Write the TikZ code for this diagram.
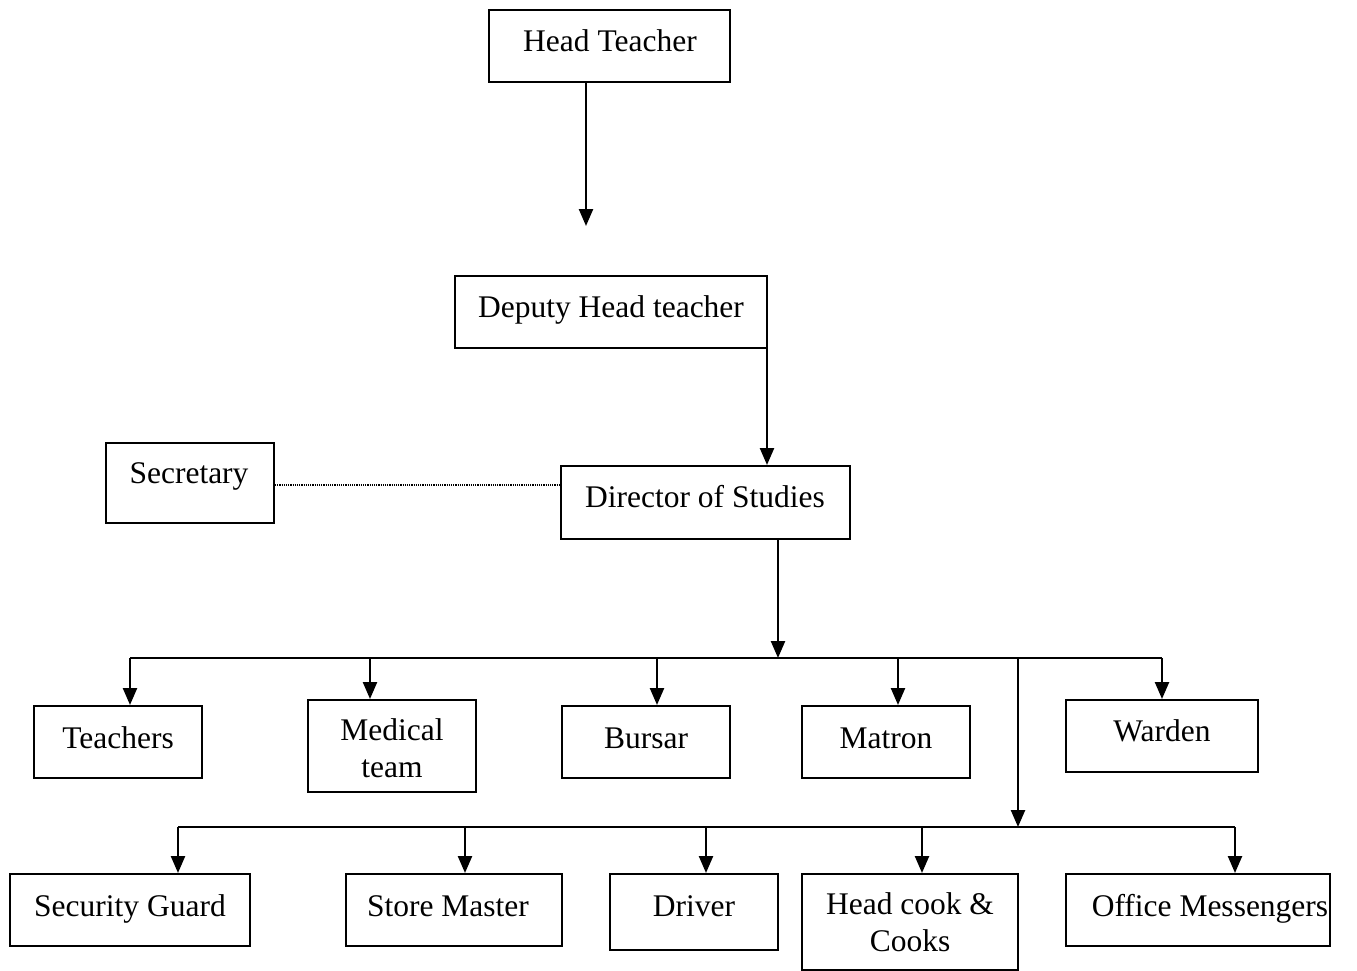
\documentclass[tikz,border=0pt]{standalone}
\usepackage{fontspec}
\setmainfont{Liberation Serif}
\usetikzlibrary{arrows.meta}
\begin{document}
\begin{tikzpicture}[x=1pt,y=-1pt,
  box/.style={draw, line width=2pt, inner sep=0pt},
  txt/.style={anchor=base, inner sep=0pt, font=\fontsize{31.5}{37}\selectfont},
  conn/.style={line width=2.4pt},
  arr/.style={conn, -{Triangle[width=14pt,length=17pt]}},
  dots/.style={line width=1.2pt, densely dotted}]
\useasboundingbox (0,0) rectangle (1357,971);
% boxes
\node[box, minimum width=241pt, minimum height=72pt] (ht) at (609.5,46) {};
\node[box, minimum width=312pt, minimum height=72pt] (dht) at (611,312) {};
\node[box, minimum width=168pt, minimum height=80pt] (sec) at (190,483) {};
\node[box, minimum width=289pt, minimum height=73pt] (dos) at (705.5,502.5) {};
\node[box, minimum width=168pt, minimum height=72pt] (tea) at (118,742) {};
\node[box, minimum width=168pt, minimum height=92pt] (med) at (392,746) {};
\node[box, minimum width=168pt, minimum height=72pt] (bur) at (646,742) {};
\node[box, minimum width=168pt, minimum height=72pt] (mat) at (886,742) {};
\node[box, minimum width=192pt, minimum height=72pt] (war) at (1162,736) {};
\node[box, minimum width=240pt, minimum height=72pt] (sg) at (130,910) {};
\node[box, minimum width=216pt, minimum height=72pt] (sm) at (454,910) {};
\node[box, minimum width=168pt, minimum height=76pt] (drv) at (694,912) {};
\node[box, minimum width=216pt, minimum height=96pt] (hc) at (910,922) {};
\node[box, minimum width=264pt, minimum height=72pt] (om) at (1198,910) {};
% texts
\node[txt] (tht) at (610,52) {Head Teacher};
\node[txt] (tdht) at (611,317) {Deputy Head teacher};
\node[txt] (tsec) at (189,483) {Secretary};
\node[txt] (tdos) at (705,507) {Director of Studies};
\node[txt] (ttea) at (118,748) {Teachers};
\node[txt] (tmed1) at (392,740) {Medical};
\node[txt] (tmed2) at (392,777) {team};
\node[txt] (tbur) at (646,748) {Bursar};
\node[txt] (tmat) at (886,748) {Matron};
\node[txt] (twar) at (1162,741) {Warden};
\node[txt] (tsg) at (130,916) {Security Guard};
\node[txt] (tsm) at (448,916) {Store Master};
\node[txt] (tdrv) at (694,916) {Driver};
\node[txt] (thc1) at (910,914) {Head cook \&};
\node[txt] (thc2) at (910,951) {Cooks};
\node[txt] (tom) at (1210,916) {Office Messengers};
% coordinates
\coordinate (a1) at (586,226);
\coordinate (d1) at (767,297);
\coordinate (b1) at (778,658);
\coordinate (bl) at (130,658);
\coordinate (br) at (1162,658);
\coordinate (v2) at (1018,658);
\coordinate (b2) at (1018,827);
\coordinate (cl) at (178,827);
\coordinate (cr) at (1235,827);
% connectors
\draw[arr] (ht.south -| a1) -- (a1);
\draw[arr] (d1) -- (dos.north -| d1);
\draw[dots] (sec.east |- 0,485) -- (dos.west |- 0,485);
\draw[arr] (dos.south -| b1) -- (b1);
\draw[conn] (bl) -- (br);
\draw[arr] (bl) -- (tea.north -| bl);
\draw[arr] (370,658) -- (med.north -| 370,0);
\draw[arr] (657,658) -- (bur.north -| 657,0);
\draw[arr] (898,658) -- (mat.north -| 898,0);
\draw[arr] (br) -- (war.north -| br);
\draw[arr] (v2) -- (b2);
\draw[conn] (cl) -- (cr);
\draw[arr] (cl) -- (sg.north -| cl);
\draw[arr] (465,827) -- (sm.north -| 465,0);
\draw[arr] (706,827) -- (drv.north -| 706,0);
\draw[arr] (922,827) -- (hc.north -| 922,0);
\draw[arr] (cr) -- (om.north -| cr);
\end{tikzpicture}
\end{document}
